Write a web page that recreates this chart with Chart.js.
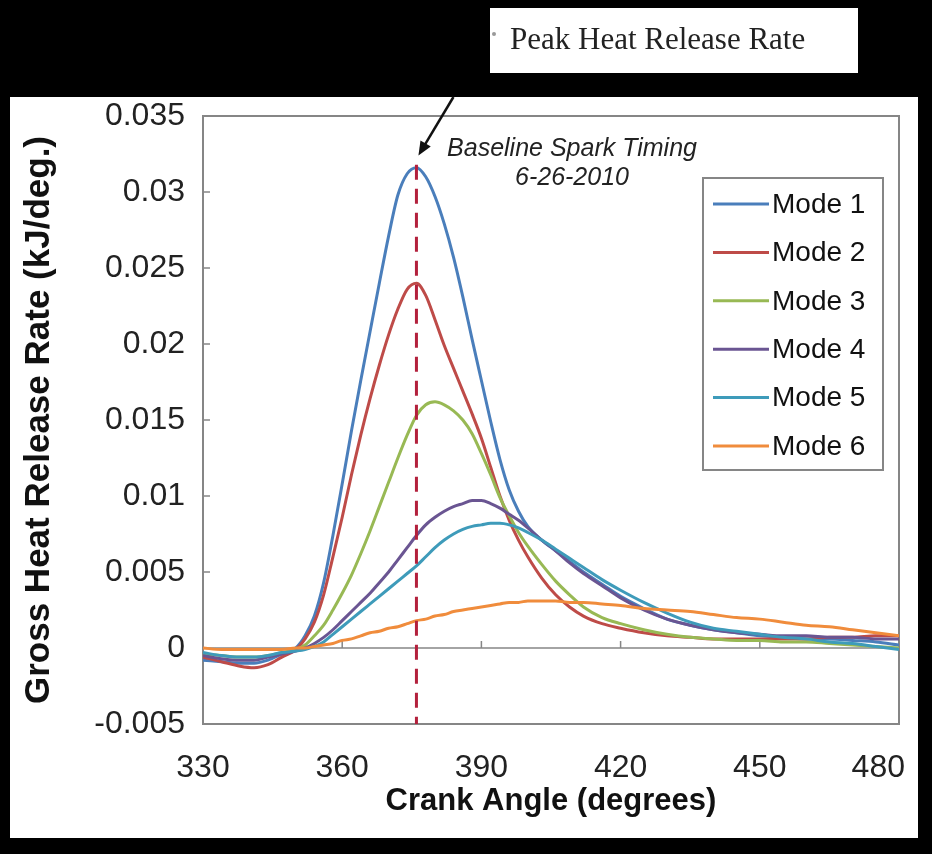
<!DOCTYPE html>
<html>
<head>
<meta charset="utf-8">
<title>Gross Heat Release Rate</title>
<script src="https://cdn.jsdelivr.net/npm/chart.js@4.4.1/dist/chart.umd.min.js"></script>
<style>
  html, body { margin: 0; padding: 0; background: #000; }
  #wrap { width: 932px; height: 854px; }
</style>
</head>
<body>
<div id="wrap"><canvas id="hrrChart" width="932" height="854"></canvas></div>
<script>
// Crank angle (degrees)
const angles = [330, 334, 338, 341, 344, 347, 350, 352, 354, 356, 358, 360, 362, 364, 366, 368, 370,
  372, 374, 376, 378, 380, 382, 384, 386, 388, 390, 392, 394, 396, 398, 400, 403, 406, 409, 412,
  416, 420, 425, 430, 435, 440, 445, 450, 455, 460, 465, 470, 475, 480];

// Gross heat release rate (kJ/deg.)
const mode1 = [-0.0008, -0.0009, -0.0010, -0.0010, -0.0008, -0.0004, 0.0000, 0.0008, 0.0021, 0.0043,
  0.0074, 0.0108, 0.0143, 0.0176, 0.0208, 0.0240, 0.0271, 0.0298, 0.0312, 0.0316, 0.0310, 0.0297,
  0.0279, 0.0257, 0.0231, 0.0203, 0.0176, 0.0149, 0.0124, 0.0104, 0.0090, 0.0080, 0.0071, 0.0064,
  0.0057, 0.0050, 0.0042, 0.0034, 0.0026, 0.0019, 0.0015, 0.0012, 0.0010, 0.0008, 0.0007, 0.0006,
  0.0006, 0.0005, 0.0004, 0.0002];
const mode2 = [-0.0006, -0.0009, -0.0012, -0.0013, -0.0011, -0.0006, -0.0001, 0.0006, 0.0017, 0.0035,
  0.0060, 0.0086, 0.0114, 0.0140, 0.0164, 0.0186, 0.0206, 0.0223, 0.0236, 0.0240, 0.0232, 0.0216,
  0.0199, 0.0184, 0.0169, 0.0154, 0.0138, 0.0119, 0.0100, 0.0084, 0.0071, 0.0060, 0.0046, 0.0035,
  0.0027, 0.0021, 0.0016, 0.0013, 0.0010, 0.0008, 0.0007, 0.0006, 0.0006, 0.0006, 0.0006, 0.0006,
  0.0007, 0.0007, 0.0008, 0.0008];
const mode3 = [-0.0004, -0.0005, -0.0006, -0.0006, -0.0005, -0.0003, -0.0001, 0.0002, 0.0008, 0.0015,
  0.0025, 0.0036, 0.0048, 0.0062, 0.0077, 0.0093, 0.0109, 0.0125, 0.0140, 0.0153, 0.0160, 0.0162,
  0.0160, 0.0156, 0.0150, 0.0141, 0.0128, 0.0114, 0.0099, 0.0087, 0.0076, 0.0067, 0.0055, 0.0044,
  0.0035, 0.0027, 0.0020, 0.0016, 0.0012, 0.0009, 0.0007, 0.0006, 0.0005, 0.0005, 0.0004, 0.0004,
  0.0003, 0.0002, 0.0001, 0.0000];
const mode4 = [-0.0005, -0.0007, -0.0008, -0.0008, -0.0006, -0.0004, -0.0002, 0.0000, 0.0003, 0.0007,
  0.0012, 0.0018, 0.0024, 0.0030, 0.0036, 0.0043, 0.0050, 0.0058, 0.0066, 0.0074, 0.0081, 0.0086,
  0.0090, 0.0093, 0.0095, 0.0097, 0.0097, 0.0095, 0.0092, 0.0088, 0.0084, 0.0079, 0.0071, 0.0064,
  0.0056, 0.0049, 0.0041, 0.0033, 0.0025, 0.0019, 0.0015, 0.0012, 0.0010, 0.0009, 0.0008, 0.0008,
  0.0007, 0.0007, 0.0006, 0.0006];
const mode5 = [-0.0003, -0.0005, -0.0006, -0.0006, -0.0005, -0.0003, -0.0002, -0.0001, 0.0001, 0.0004,
  0.0009, 0.0014, 0.0019, 0.0024, 0.0029, 0.0034, 0.0039, 0.0044, 0.0049, 0.0054, 0.0060, 0.0066,
  0.0071, 0.0075, 0.0078, 0.0080, 0.0081, 0.0082, 0.0082, 0.0081, 0.0079, 0.0076, 0.0071, 0.0065,
  0.0059, 0.0053, 0.0045, 0.0038, 0.0030, 0.0023, 0.0017, 0.0013, 0.0011, 0.0009, 0.0007, 0.0006,
  0.0004, 0.0003, 0.0001, -0.0001];
const mode6 = [0.0000, -0.0001, -0.0001, -0.0001, -0.0001, -0.0001, 0.0000, 0.0000, 0.0001, 0.0002,
  0.0003, 0.0005, 0.0006, 0.0008, 0.0010, 0.0011, 0.0013, 0.0014, 0.0016, 0.0018, 0.0019, 0.0021,
  0.0022, 0.0024, 0.0025, 0.0026, 0.0027, 0.0028, 0.0029, 0.0030, 0.0030, 0.0031, 0.0031, 0.0031,
  0.0030, 0.0030, 0.0029, 0.0028, 0.0026, 0.0025, 0.0024, 0.0022, 0.0020, 0.0019, 0.0017, 0.0015,
  0.0014, 0.0012, 0.0010, 0.0008];

const modeNames = ['Mode 1', 'Mode 2', 'Mode 3', 'Mode 4', 'Mode 5', 'Mode 6'];
const modeColors = ['#4A7EBB', '#BE4B48', '#98B954', '#6A5592', '#3E9BBA', '#F08C3C'];

const xTicks = [330, 360, 390, 420, 450, 480];
const yTicks = [-0.005, 0, 0.005, 0.01, 0.015, 0.02, 0.025, 0.03, 0.035];

// Baseline spark timing marker (dashed line)
const sparkAngle = 376;
const sparkRange = [0.0318, -0.005];
const arrowTipValue = 0.0324;

const FONT = "'Liberation Sans', Arial, sans-serif";
const GRAY = '#868686';

const series = [mode1, mode2, mode3, mode4, mode5, mode6];

const datasets = series.map((vals, i) => ({
    label: modeNames[i],
    data: angles.map((a, k) => ({ x: a, y: vals[k] })),
    borderColor: modeColors[i],
    borderWidth: 3,
    pointRadius: 0,
    cubicInterpolationMode: 'monotone',
    order: series.length - i
}));

datasets.push({
    label: 'spark',
    data: sparkRange.map(v => ({ x: sparkAngle, y: v })),
    borderColor: '#B3203C',
    borderWidth: 3,
    borderDash: [15, 9],
    pointRadius: 0,
    order: -1
});

// Чёрная рамка, белое поле, плашка сверху
const backgroundPlugin = {
    id: 'background',
    beforeDraw(chart) {
        const ctx = chart.ctx;
        ctx.save();
        ctx.fillStyle = '#000';
        ctx.fillRect(0, 0, chart.width, chart.height);
        ctx.fillStyle = '#fff';
        ctx.fillRect(10, 97, 908, 741);

        ctx.fillRect(490, 8, 368, 65);
        ctx.fillStyle = '#999';
        ctx.beginPath();
        ctx.arc(494, 34, 2, 0, Math.PI * 2);
        ctx.fill();
        ctx.fillStyle = '#222';
        ctx.font = "31px 'Liberation Serif', 'Times New Roman', serif";
        ctx.textBaseline = 'middle';
        ctx.textAlign = 'left';
        ctx.fillText('Peak Heat Release Rate', 510, 41);
        ctx.restore();
    }
};

// Рамка области построения, ось на нуле, подписи оси X
const framePlugin = {
    id: 'frame',
    beforeDatasetsDraw(chart) {
        const { ctx, chartArea: a, scales } = chart;
        const y0 = scales.y.getPixelForValue(0);
        ctx.save();
        ctx.strokeStyle = GRAY;
        ctx.lineWidth = 2;
        ctx.strokeRect(a.left, a.top, a.right - a.left, a.bottom - a.top);

        ctx.lineWidth = 1.5;
        ctx.beginPath();
        ctx.moveTo(a.left, y0);
        ctx.lineTo(a.right, y0);
        xTicks.forEach(t => {
            const px = scales.x.getPixelForValue(t);
            ctx.moveTo(px, y0);
            ctx.lineTo(px, y0 - 7);
        });
        yTicks.forEach(t => {
            const py = scales.y.getPixelForValue(t);
            ctx.moveTo(a.left, py);
            ctx.lineTo(a.left + 7, py);
        });
        ctx.stroke();

        // last label is kept inside the white area, like in the original
        ctx.fillStyle = '#222';
        ctx.font = '32px ' + FONT;
        ctx.textAlign = 'center';
        ctx.textBaseline = 'middle';
        xTicks.forEach(t => {
            const label = String(t);
            const w = ctx.measureText(label).width;
            const px = Math.min(scales.x.getPixelForValue(t), a.right + 6 - w / 2);
            ctx.fillText(label, px, a.bottom + 44);
        });
        ctx.restore();
    }
};

// Стрелка, подписи, легенда
const notesPlugin = {
    id: 'notes',
    afterDatasetsDraw(chart) {
        const { ctx, scales } = chart;
        const tipX = scales.x.getPixelForValue(sparkAngle) + 2;
        const tipY = scales.y.getPixelForValue(arrowTipValue);
        const startX = tipX + 35, startY = 97;
        const ang = Math.atan2(tipY - startY, tipX - startX);

        ctx.save();
        ctx.strokeStyle = '#111';
        ctx.fillStyle = '#111';
        ctx.lineWidth = 2.5;
        ctx.beginPath();
        ctx.moveTo(startX, startY);
        ctx.lineTo(tipX - 10 * Math.cos(ang), tipY - 10 * Math.sin(ang));
        ctx.stroke();
        ctx.beginPath();
        ctx.moveTo(tipX, tipY);
        ctx.lineTo(tipX - 14 * Math.cos(ang) + 6 * Math.sin(ang), tipY - 14 * Math.sin(ang) - 6 * Math.cos(ang));
        ctx.lineTo(tipX - 14 * Math.cos(ang) - 6 * Math.sin(ang), tipY - 14 * Math.sin(ang) + 6 * Math.cos(ang));
        ctx.closePath();
        ctx.fill();

        ctx.fillStyle = '#222';
        ctx.font = 'italic 25px ' + FONT;
        ctx.textAlign = 'center';
        ctx.textBaseline = 'middle';
        ctx.fillText('Baseline Spark Timing', 572, 149);
        ctx.fillText('6-26-2010', 572, 178);

        // легенда
        ctx.fillStyle = '#fff';
        ctx.fillRect(703, 178, 180, 292);
        ctx.strokeStyle = GRAY;
        ctx.lineWidth = 2;
        ctx.strokeRect(703, 178, 180, 292);
        ctx.font = '28px ' + FONT;
        ctx.textAlign = 'left';
        chart.data.datasets.slice(0, modeNames.length).forEach((ds, i) => {
            const ry = 204 + i * 48.4;
            ctx.strokeStyle = ds.borderColor;
            ctx.lineWidth = 3;
            ctx.beginPath();
            ctx.moveTo(713, ry);
            ctx.lineTo(769, ry);
            ctx.stroke();
            ctx.fillStyle = '#111';
            ctx.fillText(ds.label, 772, ry + 1);
        });
        ctx.restore();
    }
};

Chart.defaults.font.family = FONT;

new Chart(document.getElementById('hrrChart'), {
    type: 'line',
    data: { datasets },
    options: {
        responsive: false,
        animation: false,
        devicePixelRatio: 1,
        layout: { padding: { top: 116, right: 33, bottom: 16, left: 10 } },
        plugins: {
            legend: { display: false },
            tooltip: { enabled: false }
        },
        scales: {
            x: {
                type: 'linear',
                min: 330,
                max: 480,
                afterBuildTicks: s => { s.ticks = xTicks.map(v => ({ value: v })); },
                afterFit: s => { s.height = 114; s.paddingLeft = 0; s.paddingRight = 0; },
                grid: { display: false, drawTicks: false },
                border: { display: false },
                ticks: { display: false },
                title: {
                    display: true,
                    text: 'Crank Angle (degrees)',
                    color: '#111',
                    font: { size: 31, weight: 'bold' },
                    padding: { top: 0, bottom: 18 }
                }
            },
            y: {
                type: 'linear',
                min: -0.005,
                max: 0.035,
                afterBuildTicks: s => { s.ticks = yTicks.map(v => ({ value: v })); },
                afterFit: s => { s.width = 193; s.paddingTop = 0; s.paddingBottom = 0; },
                grid: { display: false, drawTicks: false },
                border: { display: false },
                ticks: {
                    color: '#222',
                    font: { size: 32 },
                    padding: 18,
                    callback: v => String(Math.round(v * 1000) / 1000)
                },
                title: {
                    display: true,
                    text: 'Gross Heat Release Rate (kJ/deg.)',
                    color: '#111',
                    font: { size: 35, weight: 'bold' },
                    padding: { top: 8, bottom: 0 }
                }
            }
        }
    },
    plugins: [backgroundPlugin, framePlugin, notesPlugin]
});
</script>
</body>
</html>
